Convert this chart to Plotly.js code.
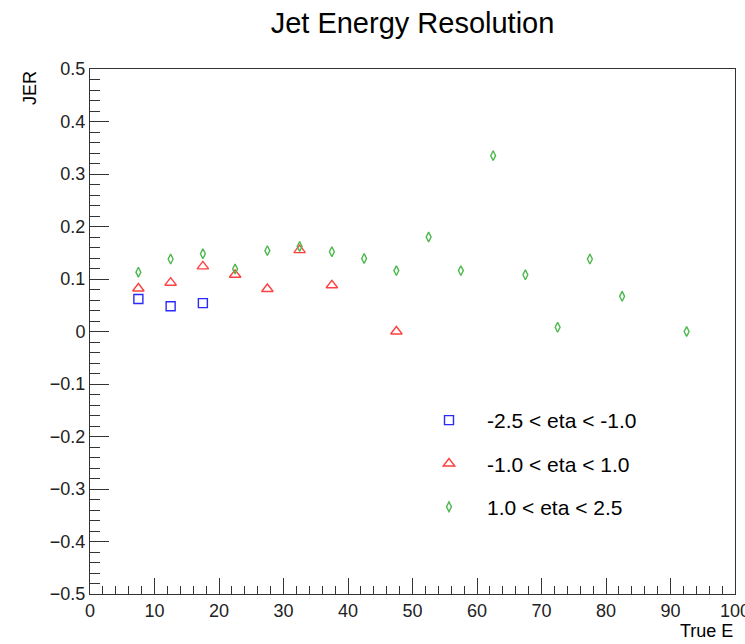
<!DOCTYPE html>
<html>
<head>
<meta charset="utf-8">
<script src="https://cdn.plot.ly/plotly-3.0.1.min.js"></script>
<style>html,body{margin:0;padding:0;background:#fff;}#chart{width:745px;height:644px;}</style>
</head>
<body>
<div id="chart"></div>
<script>
// Data
const xBlue = [7.5, 12.5, 17.5];
const yBlue = [0.062, 0.048, 0.054];

const xRed = [7.5, 12.5, 17.5, 22.5, 27.5, 32.5, 37.5, 47.5];
const yRed = [0.082, 0.093, 0.124, 0.108, 0.081, 0.155, 0.088, 0.0];

const xGreen = [7.5, 12.5, 17.5, 22.5, 27.5, 32.5, 37.5, 42.5, 47.5, 52.5, 57.5, 62.5, 67.5, 72.5, 77.5, 82.5, 92.5];
const yGreen = [0.113, 0.138, 0.148, 0.119, 0.154, 0.162, 0.152, 0.139, 0.116, 0.180, 0.116, 0.335, 0.108, 0.008, 0.138, 0.067, 0.0];

const seriesNames = ["-2.5 < eta < -1.0", "-1.0 < eta < 1.0", "1.0 < eta < 2.5"];

const FONT = "Liberation Sans, Arial, Helvetica, sans-serif";

function mk(x, y, name, sym, color, size, grp) {
  return {
    type: "scatter", mode: "markers", x: x, y: y, name: name,
    legendgroup: grp,
    marker: {symbol: sym, size: size, color: color, line: {color: color, width: 1.4}},
    hoverinfo: "x+y"
  };
}

const data = [
  mk(xBlue, yBlue, seriesNames[0], "square-open", "#2a2aff", 9, "a"),
  mk(xRed, yRed, seriesNames[1], "triangle-up-open", "#ff4040", 10, "b"),
  mk(xGreen, yGreen, seriesNames[2], "diamond-tall-open", "#4cb84c", 7, "c")
];

const axisCommon = {
  showgrid: false, zeroline: false, showline: true, mirror: true,
  linecolor: "#333", linewidth: 1, ticks: "inside", tickcolor: "#333",
  ticklabeloverflow: "allow",
  tickfont: {family: FONT, size: 18, color: "#222"}
};

const layout = {
  width: 745, height: 644,
  margin: {l: 90, r: 10, t: 69, b: 50},
  paper_bgcolor: "#fff", plot_bgcolor: "#fff",
  title: {text: "Jet Energy Resolution", font: {family: FONT, size: 29, color: "#000"},
          x: 0.5, xref: "paper", xanchor: "center", y: 0.965, yref: "container", yanchor: "middle"},
  xaxis: Object.assign({}, axisCommon, {
    range: [0, 100], dtick: 10, tick0: 0, ticklen: 16,
    minor: {dtick: 2, ticklen: 8, ticks: "inside", tickcolor: "#333", showgrid: false}
  }),
  yaxis: Object.assign({}, axisCommon, {
    range: [-0.5, 0.5], dtick: 0.1, tick0: 0, ticklen: 19,
    minor: {dtick: 0.02, ticklen: 10, ticks: "inside", tickcolor: "#333", showgrid: false}
  }),
  showlegend: true,
  legend: {
    x: (411 - 90) / 645, y: 1 - (400 - 69) / 525, xanchor: "left", yanchor: "top",
    bgcolor: "rgba(0,0,0,0)", borderwidth: 0,
    font: {family: FONT, size: 21, color: "#000"},
    tracegroupgap: 13, itemwidth: 66
  },
  annotations: [
    {text: "JER", xref: "paper", yref: "paper", x: -0.093, y: 1, xanchor: "center", yanchor: "top",
     textangle: -90, showarrow: false, font: {family: FONT, size: 18, color: "#000"}},
    {text: "True E", xref: "paper", yref: "paper", x: 1, y: -(631 - 594) / 525, xanchor: "right", yanchor: "middle",
     showarrow: false, font: {family: FONT, size: 18, color: "#000"}}
  ]
};

Plotly.newPlot("chart", data, layout, {displayModeBar: false, staticPlot: true});
</script>
</body>
</html>
